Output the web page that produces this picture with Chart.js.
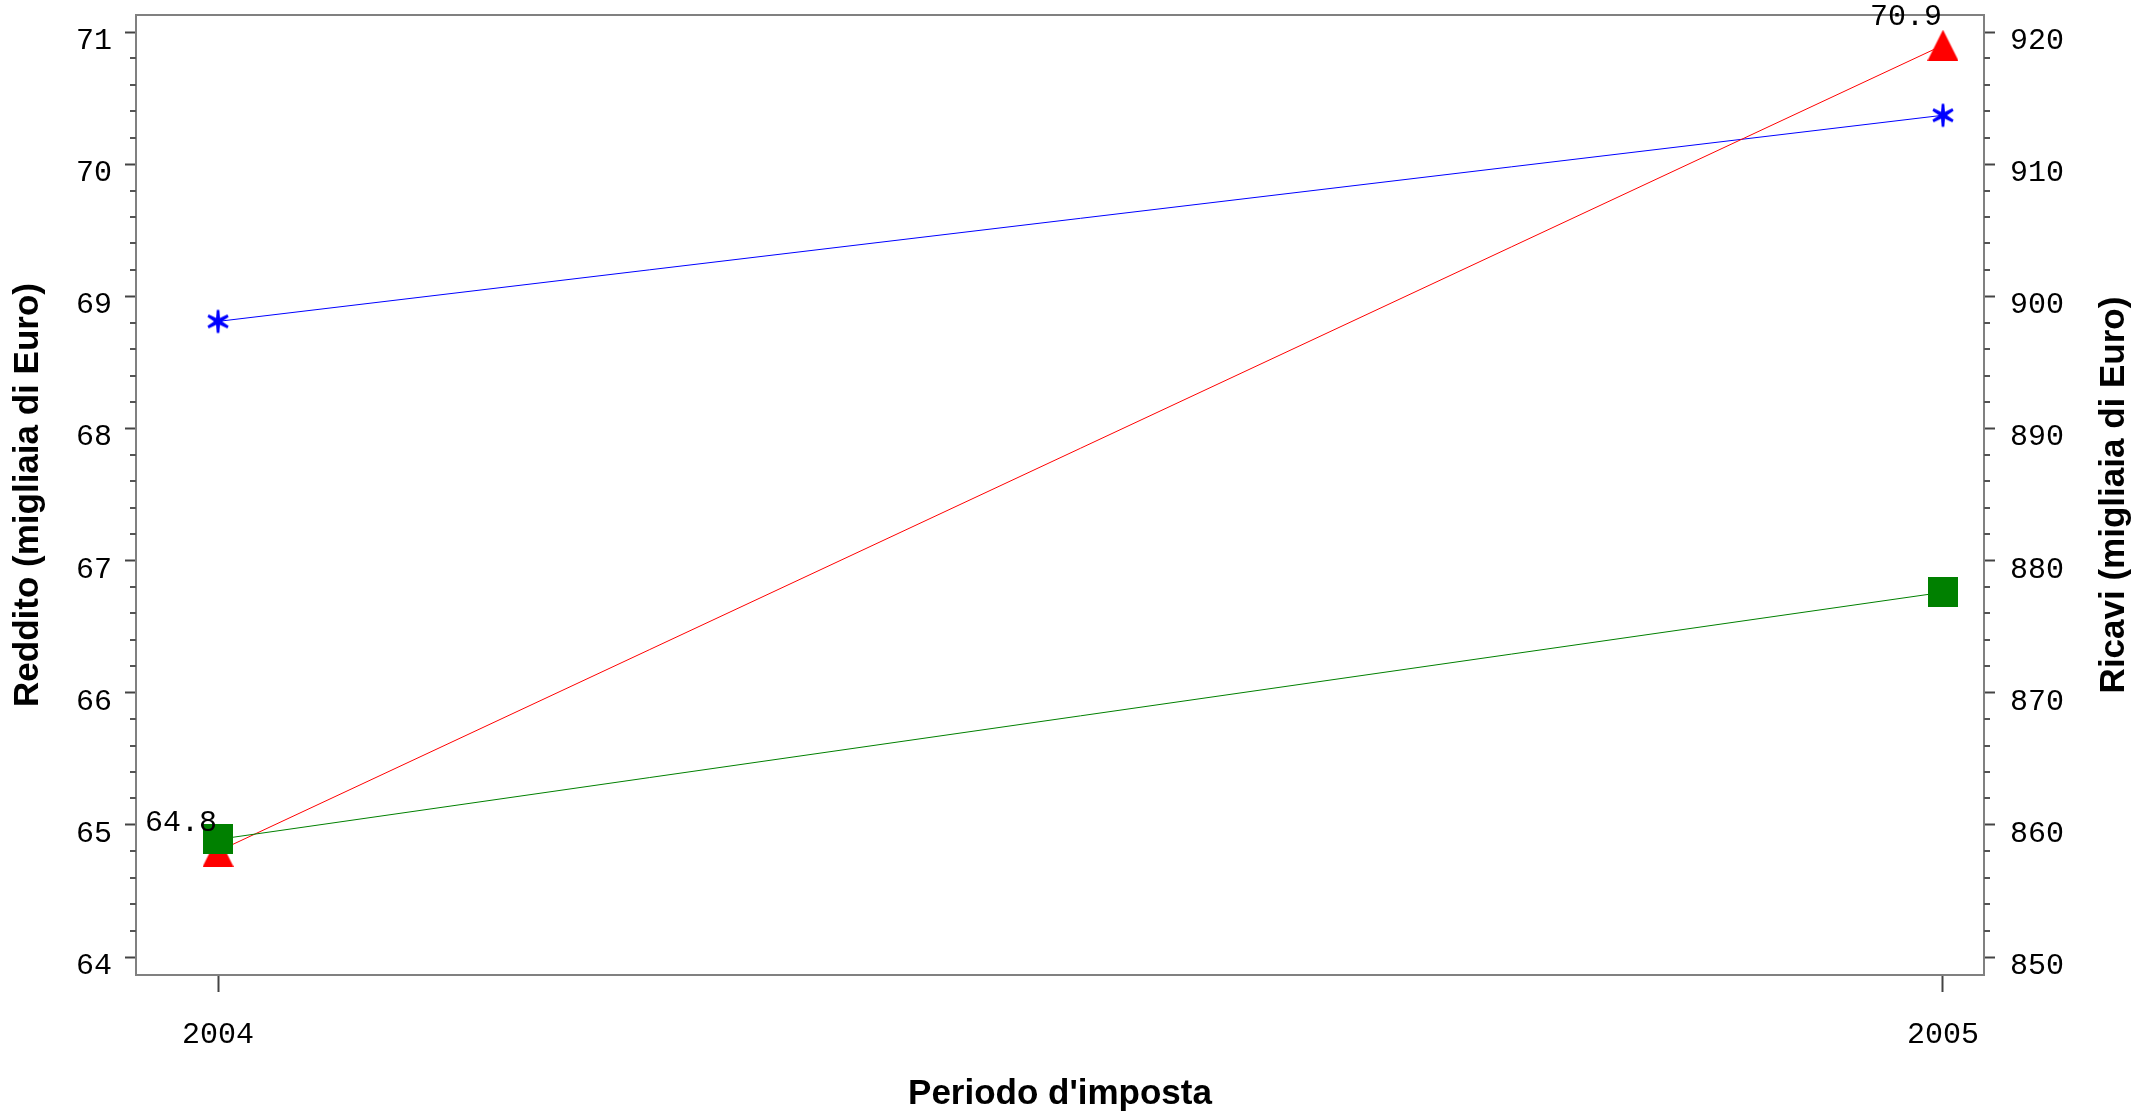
<!DOCTYPE html>
<html>
<head>
<meta charset="utf-8">
<script src="https://cdn.jsdelivr.net/npm/chart.js@4/dist/chart.umd.min.js"></script>
<style>body{margin:0;background:#fff}canvas{display:block}</style>
</head>
<body>
<canvas id="chart_reddito" width="2149" height="1113"></canvas>
<script>
var anni = [2004, 2005];
var reddito = [64.8, 70.9];       // triangoli rossi, asse sinistro
var ricavi = [898.1, 913.7];      // asterischi blu, asse destro
var ricaviBis = [858.9, 877.6];   // quadrati verdi, asse destro
var tickSinistra = [64, 65, 66, 67, 68, 69, 70, 71];
var tickDestra = [850, 860, 870, 880, 890, 900, 910, 920];

var makeMarker = function(w, h, draw) {
    var c = document.createElement('canvas');
    c.width = w;
    c.height = h;
    draw(c.getContext('2d'), w, h);
    return c;
};
var triangolo = makeMarker(31, 31, function(g, w, h) {
    g.fillStyle = '#ff0000';
    g.beginPath();
    g.moveTo(w / 2, 0);
    g.lineTo(w, h);
    g.lineTo(0, h);
    g.closePath();
    g.fill();
});
var quadrato = makeMarker(30, 30, function(g, w, h) {
    g.fillStyle = '#008000';
    g.fillRect(0, 0, w, h);
});
var asterisco = makeMarker(26, 26, function(g, w, h) {
    g.fillStyle = '#0000ff';
    for (var k = 0; k < 3; k++) {
        var a = Math.PI / 2 + k * Math.PI / 3;
        g.save();
        g.translate(w / 2, h / 2);
        g.rotate(-a);
        // raggio affusolato, piu' spesso al centro
        g.beginPath();
        g.moveTo(-11.5, -1.3);
        g.lineTo(0, -2.2);
        g.lineTo(11.5, -1.3);
        g.lineTo(11.5, 1.3);
        g.lineTo(0, 2.2);
        g.lineTo(-11.5, 1.3);
        g.closePath();
        g.fill();
        g.restore();
    }
});

var punti = function(vals) {
    return anni.map(function(a, i) { return {x: a, y: vals[i]}; });
};

var monoFont = {family: 'Liberation Mono', size: 30};
var grigio = '#808080';

var noPad = function(s) {
    s.paddingTop = 0;
    s.paddingBottom = 0;
    s.paddingLeft = 0;
    s.paddingRight = 0;
};

// titoli, bordo superiore, tacche minori, etichette dei valori
var decorazioni = {
    id: 'decorazioni',
    afterDraw: function(chart) {
        var ctx = chart.ctx, a = chart.chartArea;
        var ys = chart.scales.y, yd = chart.scales.y1;
        ctx.save();
        ctx.strokeStyle = grigio;
        ctx.lineWidth = 2;
        ctx.beginPath();
        ctx.moveTo(a.left - 1, a.top);
        ctx.lineTo(a.right + 1, a.top);
        ctx.stroke();

        ctx.strokeStyle = '#555';
        ctx.beginPath();
        for (var i = 63; i <= 71; i++) {
            for (var k = 1; k < 5; k++) {
                var v = i + k * 0.2;
                if (v < ys.min || v > ys.max) continue;
                var py = Math.round(ys.getPixelForValue(v));
                ctx.moveTo(a.left, py);
                ctx.lineTo(a.left - 6, py);
            }
        }
        for (var j = 840; j <= 920; j += 10) {
            for (var m = 1; m < 5; m++) {
                var w = j + m * 2;
                if (w < yd.min || w > yd.max) continue;
                var pz = Math.round(yd.getPixelForValue(w));
                ctx.moveTo(a.right, pz);
                ctx.lineTo(a.right + 6, pz);
            }
        }
        ctx.stroke();

        ctx.fillStyle = '#000';
        ctx.font = 'bold 35px "Liberation Sans"';
        ctx.textAlign = 'center';
        ctx.textBaseline = 'alphabetic';
        ctx.fillText("Periodo d'imposta", (a.left + a.right) / 2, 1104);
        var cy = (a.top + a.bottom) / 2;
        ctx.save();
        ctx.translate(38, cy);
        ctx.rotate(-Math.PI / 2);
        ctx.fillText('Reddito (migliaia di Euro)', 0, 0);
        ctx.restore();
        ctx.save();
        ctx.translate(2124, cy);
        ctx.rotate(-Math.PI / 2);
        ctx.fillText('Ricavi (migliaia di Euro)', 0, 0);
        ctx.restore();

        ctx.font = '30px "Liberation Mono"';
        ctx.textAlign = 'right';
        ctx.textBaseline = 'middle';
        var meta = chart.getDatasetMeta(2);
        meta.data.forEach(function(p, n) {
            ctx.fillText(reddito[n].toFixed(1), p.x - 1, p.y - 28);
        });
        ctx.restore();
    }
};

window.onload = function() {
    var ctx = document.getElementById('chart_reddito');
    window.myLine = new Chart(ctx, {
        type: 'line',
        data: {
            datasets: [{
                label: 'Ricavi 2',
                data: punti(ricaviBis),
                yAxisID: 'y1',
                borderColor: '#008000',
                borderWidth: 1,
                pointStyle: quadrato,
                order: 0
            }, {
                label: 'Ricavi',
                data: punti(ricavi),
                yAxisID: 'y1',
                borderColor: '#0000ff',
                borderWidth: 1,
                pointStyle: asterisco,
                order: 2
            }, {
                label: 'Reddito',
                data: punti(reddito),
                yAxisID: 'y',
                borderColor: '#ff0000',
                borderWidth: 1,
                pointStyle: triangolo,
                order: 1
            }]
        },
        options: {
            responsive: false,
            animation: false,
            clip: false,
            layout: {padding: {top: 15, left: 0, right: 0, bottom: 0}},
            plugins: {legend: {display: false}, tooltip: {enabled: false}},
            scales: {
                x: {
                    type: 'linear',
                    min: 2003.95246,
                    max: 2005.02377,
                    afterBuildTicks: function(s) { s.ticks = anni.map(function(v) { return {value: v}; }); },
                    afterFit: function(s) { s.height = 138; noPad(s); },
                    border: {display: true, color: grigio, width: 2},
                    grid: {drawOnChartArea: false, tickLength: 17, tickColor: '#444', tickWidth: 2},
                    ticks: {font: monoFont, color: '#000', padding: 25, maxRotation: 0, autoSkip: false,
                        callback: function(v) { return String(v); }}
                },
                y: {
                    position: 'left',
                    min: 63.8638,
                    max: 71.1287,
                    afterBuildTicks: function(s) { s.ticks = tickSinistra.map(function(v) { return {value: v}; }); },
                    afterFit: function(s) { s.width = 136; noPad(s); },
                    border: {display: true, color: grigio, width: 2},
                    grid: {drawOnChartArea: false, tickLength: 11, tickColor: '#444', tickWidth: 2},
                    ticks: {font: monoFont, color: '#000', padding: 13, labelOffset: 9,
                        callback: function(v) { return String(v); }}
                },
                y1: {
                    position: 'right',
                    min: 848.638,
                    max: 921.287,
                    afterBuildTicks: function(s) { s.ticks = tickDestra.map(function(v) { return {value: v}; }); },
                    afterFit: function(s) { s.width = 165; noPad(s); },
                    border: {display: true, color: grigio, width: 2},
                    grid: {drawOnChartArea: false, tickLength: 11, tickColor: '#444', tickWidth: 2},
                    ticks: {font: monoFont, color: '#000', padding: 15, labelOffset: 9,
                        callback: function(v) { return String(v); }}
                }
            }
        },
        plugins: [decorazioni]
    });
};
</script>
</body>
</html>
